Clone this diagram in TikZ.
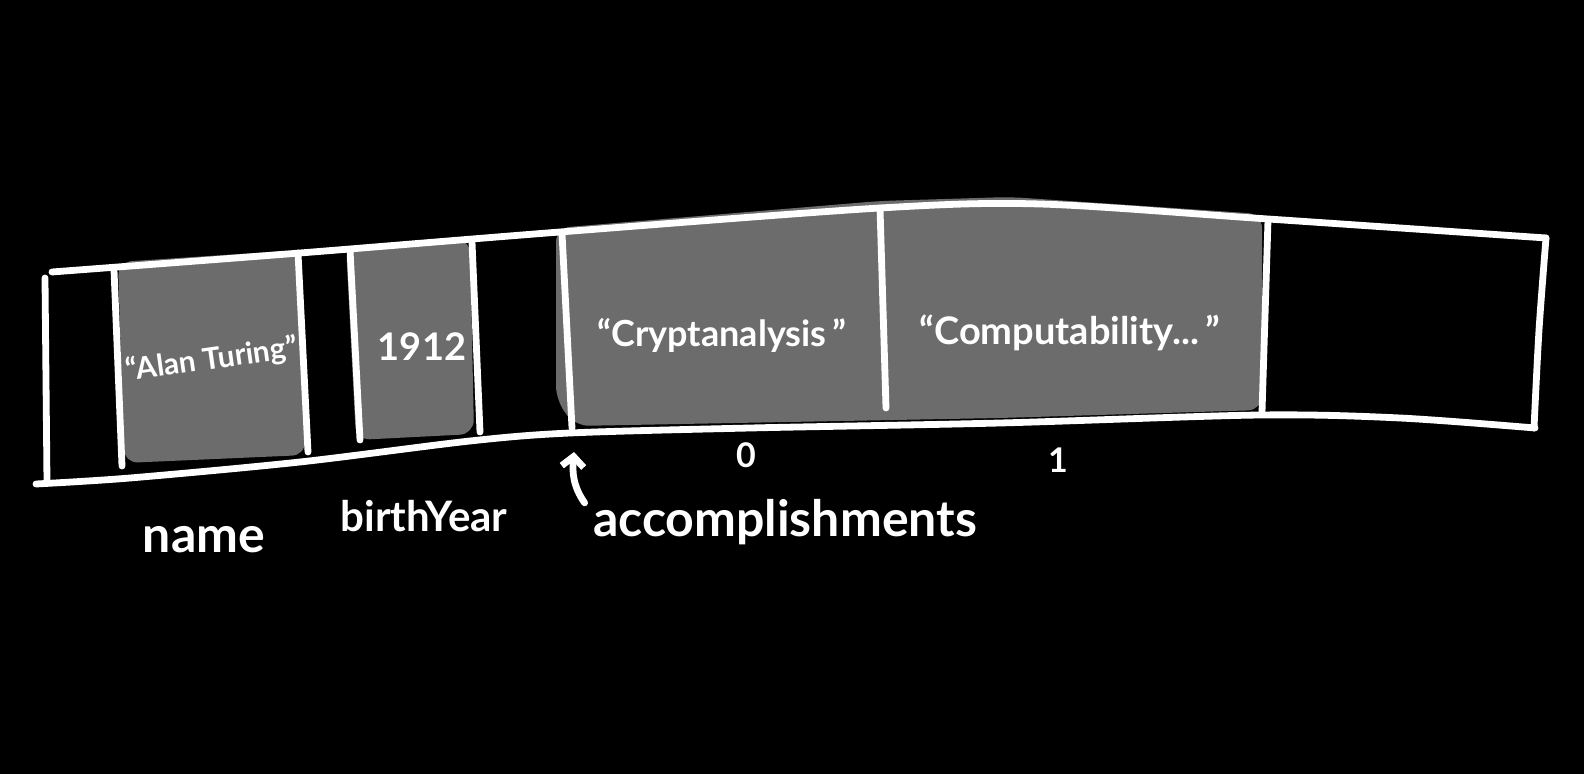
\documentclass[tikz,border=0pt]{standalone}
\usepackage{fontspec}
\setmainfont{Lato}
\usetikzlibrary{arrows.meta}
\definecolor{cellgray}{RGB}{108,108,108}

\begin{document}
\begin{tikzpicture}[
        x = 0.5pt, y = -0.5pt,
        line join=round,
        edge/.style = {white, line width=3.4pt, line cap=round, line join=round},
        cellfill/.style = {fill=cellgray, rounded corners=7pt},
        celltext/.style = {white, font=\bfseries, inner sep=0pt},
        labeltext/.style = {white, font=\bfseries\fontsize{25}{30}\selectfont, inner sep=0pt}
    ]

    \useasboundingbox (0,0) rectangle (1584,774);
    \fill[black] (0,0) rectangle (1584,774);

    % shaded cells
    \fill[cellfill] (118,262) -- (300,250) -- (306,455) -- (124,463) -- cycle;
    \fill[cellfill] (346,246) -- (470,239) -- (474,434) -- (356,440) -- cycle;
    \fill[cellfill] (556,228) -- (880,201) -- (1010,197) -- (1262,214)
        -- (1262,410) -- (1000,418) -- (575,426) -- (556,400) -- cycle;

    % outline of the strip
    \draw[edge] plot[smooth, tension=0.5] coordinates {(52,272) (300,253) (560,232) (880,208) (1040,204) (1268,219) (1546,238)};
    \draw[edge] plot[smooth, tension=0.5] coordinates {(36,484) (130,478) (300,462) (470,441) (570,433) (750,428) (1000,423) (1260,415) (1400,418) (1535,428)};
    \draw[edge] (45,278) -- (47,482);
    \draw[edge] plot[smooth] coordinates {(1546,238) (1539,330) (1534,428)};

    % dividers
    \foreach \xa/\ya/\xb/\yb in {114/270/122/466, 298/253/308/452, 350/250/360/440,
                               472/242/480/432, 562/233/572/428, 880/208/886/408,
                               1268/220/1262/412} {
        \draw[edge] (\xa,\ya) -- (\xb,\yb);
    }

    % cell contents
    \node[celltext, rotate=8, font=\bfseries\fontsize{15}{17}\selectfont] (nameval) at (212,360) {“Alan Turing”};
    \node[celltext, font=\bfseries\fontsize{19}{22}\selectfont] (yearval) at (422,347) {1912};
    \node[celltext, font=\bfseries\fontsize{18}{22}\selectfont] (accval0) at (722,335) {“Cryptanalysis\,”};
    \node[celltext, font=\bfseries\fontsize{19}{22}\selectfont] (accval1) at (1070,333) {“Computability...\,”};

    % indices
    \node[celltext, font=\bfseries\fontsize{17}{19}\selectfont] (idx0) at (746,455) {0};
    \node[celltext, font=\bfseries\fontsize{17}{19}\selectfont] (idx1) at (1058,460) {1};

    % field names
    \node[labeltext] (name) at (204,540) {name};
    \node[labeltext, font=\bfseries\fontsize{21}{26}\selectfont] (birthyear) at (424,516) {birthYear};
    \node[labeltext] (accomp) at (785,522) {accomplishments};

    \coordinate (accomptip) at (574,452);
    \draw[edge, -{Straight Barb[length=5pt, width=11pt]}] ([xshift=-4pt, yshift=-2pt]accomp.north west)
        to[out=125, in=-95] (accomptip);

\end{tikzpicture}
\end{document}
